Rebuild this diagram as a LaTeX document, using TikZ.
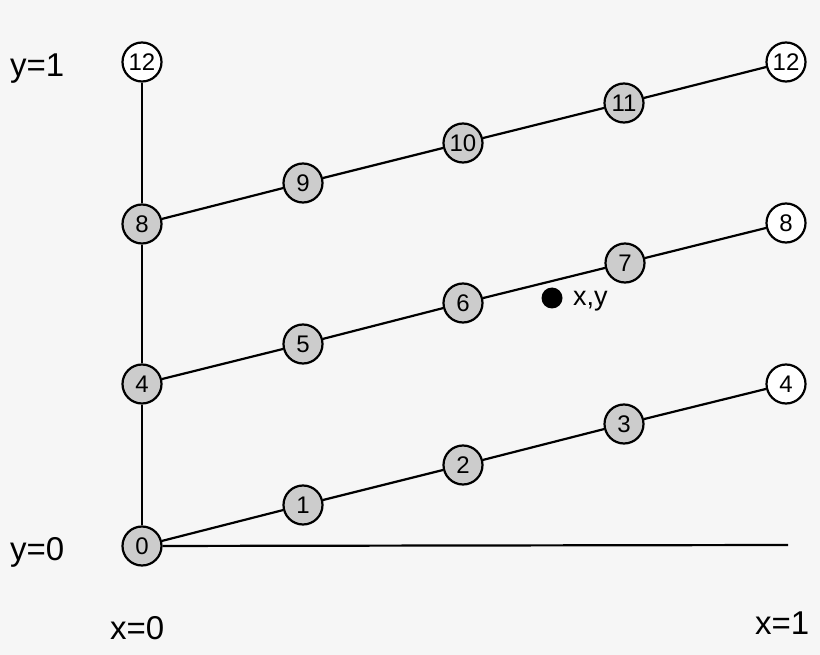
\documentclass[tikz,border=0pt]{standalone}
\usepackage{fontspec}
\setmainfont{Liberation Sans}
\definecolor{bg}{HTML}{F6F6F6}
\definecolor{nodegray}{HTML}{CCCCCC}
\tikzset{
  gnode/.style={circle, draw=black, line width=2.2pt, fill=nodegray, minimum size=39pt, inner sep=0pt, font=\fontsize{24}{24}\selectfont},
  wnode/.style={gnode, fill=white},
  edge/.style={line width=2.2pt, draw=black},
  axislabel/.style={inner sep=0pt, anchor=base west, font=\fontsize{33}{33}\selectfont}
}
\begin{document}
\begin{tikzpicture}[x=1pt, y=-1pt]
\fill[bg] (0,0) rectangle (820,655);
\useasboundingbox (0,0) rectangle (820,655);
% nodes
\node[gnode] (n0) at (142,546) {0};
\node[gnode] (n1) at (303,505) {1};
\node[gnode] (n2) at (463,465) {2};
\node[gnode] (n3) at (624,424) {3};
\node[wnode] (n4r) at (786,384) {4};
\node[gnode] (n4) at (142,384) {4};
\node[gnode] (n5) at (303,344) {5};
\node[gnode] (n6) at (463,303) {6};
\node[gnode] (n7) at (625,263) {7};
\node[wnode] (n8r) at (786,223) {8};
\node[gnode] (n8) at (142,224) {8};
\node[gnode] (n9) at (303,183) {9};
\node[gnode] (n10) at (463,143) {10};
\node[gnode] (n11) at (624,103) {11};
\node[wnode] (n12r) at (786,62) {12};
\node[wnode] (n12) at (142,62) {12};
\coordinate (baseend) at (788,545);
% edges
\draw[edge] (n0) -- (n4);
\draw[edge] (n4) -- (n8);
\draw[edge] (n8) -- (n12);
\draw[edge] (n0) -- (n1);
\draw[edge] (n1) -- (n2);
\draw[edge] (n2) -- (n3);
\draw[edge] (n3) -- (n4r);
\draw[edge] (n4) -- (n5);
\draw[edge] (n5) -- (n6);
\draw[edge] (n6) -- (n7);
\draw[edge] (n7) -- (n8r);
\draw[edge] (n8) -- (n9);
\draw[edge] (n9) -- (n10);
\draw[edge] (n10) -- (n11);
\draw[edge] (n11) -- (n12r);
\draw[edge] (n0) -- (baseend);
% point
\fill[black] (552,298) circle (10.5pt);
\node[inner sep=0pt, anchor=base west, font=\fontsize{27}{27}\selectfont] (xy) at (573,306) {x,y};
% labels
\node[axislabel] (y1) at (10,77) {y=1};
\node[axislabel] (y0) at (10,560) {y=0};
\node[axislabel] (x0) at (110,639) {x=0};
\node[axislabel] (x1) at (755,634) {x=1};
\end{tikzpicture}
\end{document}
